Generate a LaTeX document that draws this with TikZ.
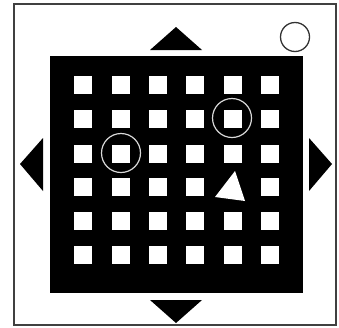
\documentclass[tikz,border=0pt]{standalone}
\begin{document}
\begin{tikzpicture}[x=1pt,y=-1pt,
  cell/.style={fill=white},
  mark circle/.style={draw=white!85!black,line width=1.2pt},
  arrowtri/.style={fill=black}]
\useasboundingbox (0,0) rectangle (339,327);
\fill[white] (0,0) rectangle (339,327);
% outer frame
\draw[line width=1.4pt,black!75] (14,4) rectangle (336,325);
% black board
\fill[black] (50,56) rectangle (303,293);
% white cells
\foreach \cx in {83,121,158,195,232.5,269.5}{
  \foreach \cy in {85,119,153.5,187,221,255}{
    \pgfmathparse{(\cx==232.5 && \cy==187) ? 1 : 0}
    \ifnum\pgfmathresult=0
      \fill[cell] (\cx-9,\cy-9) rectangle (\cx+9,\cy+9);
    \fi
  }
}
% circles on board
\draw[mark circle] (121,153) circle (19.5);
\draw[mark circle] (232,118) circle (19.5);
% white triangle
\fill[white] (235,171) -- (215,197) -- (245,201) -- cycle;
% direction triangles
\fill[arrowtri] (150,50) -- (176,27) -- (202,50) -- cycle;
\fill[arrowtri] (150,300) -- (176,323) -- (202,300) -- cycle;
\fill[arrowtri] (43,138) -- (20,164) -- (43,191) -- cycle;
\fill[arrowtri] (309,138) -- (332,164) -- (309,191) -- cycle;
% small circle top right
\draw[line width=1.3pt,black!80] (295,37) circle (14.5);
\end{tikzpicture}
\end{document}
